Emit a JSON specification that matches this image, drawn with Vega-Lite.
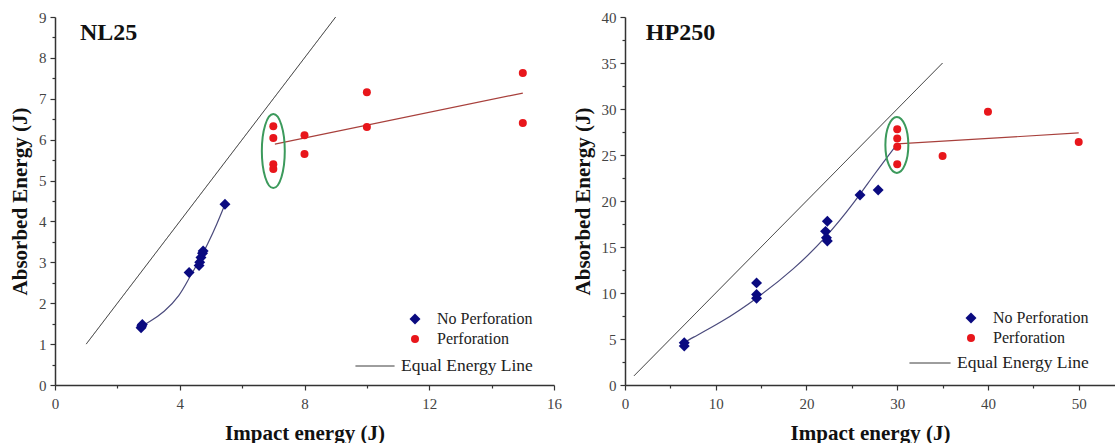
{
  "$schema": "https://vega.github.io/schema/vega-lite/v6.json",
  "padding": {"left": 9, "top": 10, "right": 0, "bottom": 0},
  "background": "white",
  "spacing": 71,
  "bounds": "flush",
  "datasets": {
    "nl_pts": [
      {"x": 2.76, "y": 1.40, "type": "No Perforation"},
      {"x": 2.78, "y": 1.44, "type": "No Perforation"},
      {"x": 2.80, "y": 1.48, "type": "No Perforation"},
      {"x": 4.30, "y": 2.75, "type": "No Perforation"},
      {"x": 4.62, "y": 2.92, "type": "No Perforation"},
      {"x": 4.64, "y": 3.00, "type": "No Perforation"},
      {"x": 4.68, "y": 3.12, "type": "No Perforation"},
      {"x": 4.73, "y": 3.22, "type": "No Perforation"},
      {"x": 4.75, "y": 3.28, "type": "No Perforation"},
      {"x": 5.45, "y": 4.42, "type": "No Perforation"},
      {"x": 7, "y": 6.33, "type": "Perforation"},
      {"x": 7, "y": 6.04, "type": "Perforation"},
      {"x": 7, "y": 5.40, "type": "Perforation"},
      {"x": 7, "y": 5.28, "type": "Perforation"},
      {"x": 8, "y": 6.11, "type": "Perforation"},
      {"x": 8, "y": 5.65, "type": "Perforation"},
      {"x": 10, "y": 7.16, "type": "Perforation"},
      {"x": 10, "y": 6.31, "type": "Perforation"},
      {"x": 15, "y": 7.63, "type": "Perforation"},
      {"x": 15, "y": 6.41, "type": "Perforation"}
    ],
    "nl_bluefit": [
      {"x": 2.80, "y": 1.45}, {"x": 3.0, "y": 1.53}, {"x": 3.5, "y": 1.78},
      {"x": 4.0, "y": 2.18}, {"x": 4.3, "y": 2.62}, {"x": 4.6, "y": 3.0},
      {"x": 4.9, "y": 3.45}, {"x": 5.2, "y": 3.95}, {"x": 5.45, "y": 4.42}
    ],
    "nl_redfit": [{"x": 7.05, "y": 5.89}, {"x": 15, "y": 7.14}],
    "nl_equal": [{"x": 1, "y": 1, "s": "Equal Energy Line"}, {"x": 9, "y": 9, "s": "Equal Energy Line"}],
    "nl_ellipse": [{"x": 7.0, "y": 5.72}],
    "nl_label": [{"x": 0.8, "y": 8.6, "t": "NL25"}],
    "hp_pts": [
      {"x": 6.53, "y": 4.24, "type": "No Perforation"},
      {"x": 6.53, "y": 4.60, "type": "No Perforation"},
      {"x": 14.5, "y": 11.1, "type": "No Perforation"},
      {"x": 14.5, "y": 9.85, "type": "No Perforation"},
      {"x": 14.5, "y": 9.42, "type": "No Perforation"},
      {"x": 22.3, "y": 17.8, "type": "No Perforation"},
      {"x": 22.1, "y": 16.7, "type": "No Perforation"},
      {"x": 22.2, "y": 16.0, "type": "No Perforation"},
      {"x": 22.3, "y": 15.65, "type": "No Perforation"},
      {"x": 25.9, "y": 20.65, "type": "No Perforation"},
      {"x": 27.9, "y": 21.2, "type": "No Perforation"},
      {"x": 30, "y": 27.8, "type": "Perforation"},
      {"x": 30, "y": 26.8, "type": "Perforation"},
      {"x": 30, "y": 25.9, "type": "Perforation"},
      {"x": 30, "y": 24.0, "type": "Perforation"},
      {"x": 35, "y": 24.9, "type": "Perforation"},
      {"x": 40, "y": 29.7, "type": "Perforation"},
      {"x": 50, "y": 26.4, "type": "Perforation"}
    ],
    "hp_bluefit": [
      {"x": 6.53, "y": 4.6}, {"x": 7.08, "y": 4.96}, {"x": 10.57, "y": 6.77},
      {"x": 14.43, "y": 9.31}, {"x": 18.65, "y": 12.6}, {"x": 22.14, "y": 16.0},
      {"x": 25.25, "y": 19.8}, {"x": 27.46, "y": 22.9}, {"x": 30.0, "y": 26.2}
    ],
    "hp_redfit": [{"x": 30, "y": 26.2}, {"x": 50, "y": 27.4}],
    "hp_equal": [{"x": 1, "y": 1, "s": "Equal Energy Line"}, {"x": 35, "y": 35, "s": "Equal Energy Line"}],
    "hp_ellipse": [{"x": 29.96, "y": 26.1}],
    "hp_label": [{"x": 2.3, "y": 38.3, "t": "HP250"}]
  },
  "hconcat": [
    {
      "width": 499,
      "height": 368,
      "encoding": {
        "x": {
          "field": "x", "type": "quantitative",
          "scale": {"domain": [0, 16], "nice": false, "zero": false},
          "axis": {
            "title": "Impact energy (J)",
            "values": [0, 2, 4, 6, 8, 10, 12, 14, 16],
            "labelExpr": "datum.value % 4 === 0 ? format(datum.value, 'd') : ''",
            "tickSize": {"condition": {"test": "datum.value % 4 === 0", "value": 5}, "value": 3},
            "labelFlush": false,
            "labelPadding": 6,
            "titlePadding": 11
          }
        },
        "y": {
          "field": "y", "type": "quantitative",
          "scale": {"domain": [0, 9], "nice": false, "zero": false},
          "axis": {
            "title": "Absorbed Energy (J)",
            "values": [0, 0.5, 1, 1.5, 2, 2.5, 3, 3.5, 4, 4.5, 5, 5.5, 6, 6.5, 7, 7.5, 8, 8.5, 9],
            "labelExpr": "datum.value % 1 === 0 ? format(datum.value, 'd') : ''",
            "tickSize": {"condition": {"test": "datum.value % 1 === 0", "value": 5}, "value": 3},
            "labelPadding": 4,
            "titlePadding": 8
          }
        }
      },
      "layer": [
        {
          "data": {"name": "nl_equal"},
          "mark": {"type": "line", "color": "#222", "strokeWidth": 1},
          "encoding": {
            "strokeDash": {
              "field": "s", "type": "nominal",
              "scale": {"domain": ["Equal Energy Line"], "range": [[1, 0]]},
              "legend": {
                "orient": "none", "legendX": 300, "legendY": 329, "title": null,
                "symbolType": "stroke", "symbolSize": 1521, "symbolStrokeColor": "#222",
                "symbolStrokeWidth": 1, "labelOffset": 6, "labelFontSize": 17.5, "padding": 0
              }
            }
          }
        },
        {
          "data": {"name": "nl_bluefit"},
          "mark": {"type": "line", "color": "#4a4a7c", "strokeWidth": 1.2, "interpolate": "basis"},
          "encoding": {}
        },
        {
          "data": {"name": "nl_redfit"},
          "mark": {"type": "line", "color": "#a8403c", "strokeWidth": 1.2},
          "encoding": {}
        },
        {
          "data": {"name": "nl_pts"},
          "mark": {"type": "point", "filled": true, "opacity": 1},
          "encoding": {
            "shape": {
              "field": "type", "type": "nominal",
              "scale": {"domain": ["No Perforation", "Perforation"], "range": ["diamond", "circle"]},
              "legend": {
                "orient": "none", "legendX": 352, "legendY": 294, "title": null,
                "symbolSize": 70, "labelOffset": 14, "labelFontSize": 16, "rowPadding": 4, "padding": 0
              }
            },
            "color": {
              "field": "type", "type": "nominal",
              "scale": {"domain": ["No Perforation", "Perforation"], "range": ["#0a0a80", "#e8161b"]},
              "legend": {
                "orient": "none", "legendX": 352, "legendY": 294, "title": null,
                "symbolSize": 70, "labelOffset": 14, "labelFontSize": 16, "rowPadding": 4, "padding": 0
              }
            },
            "size": {
              "field": "type", "type": "nominal",
              "scale": {"domain": ["No Perforation", "Perforation"], "range": [120, 64]},
              "legend": null
            }
          }
        },
        {
          "data": {"name": "nl_ellipse"},
          "mark": {
            "type": "point", "filled": false, "stroke": "#3c9a5c", "strokeWidth": 2, "opacity": 1,
            "shape": "M0,-1A0.31,1 0 1,1 0,1A0.31,1 0 1,1 0,-1Z", "size": 5476
          },
          "encoding": {}
        },
        {
          "data": {"name": "nl_label"},
          "mark": {"type": "text", "align": "left", "baseline": "middle", "font": "Liberation Serif", "fontSize": 24, "fontWeight": "bold", "color": "#111"},
          "encoding": {"text": {"field": "t"}}
        }
      ]
    },
    {
      "width": 490,
      "height": 368,
      "encoding": {
        "x": {
          "field": "x", "type": "quantitative",
          "scale": {"domain": [0, 54], "nice": false, "zero": false},
          "axis": {
            "title": "Impact energy (J)",
            "values": [0, 5, 10, 15, 20, 25, 30, 35, 40, 45, 50],
            "labelExpr": "datum.value % 10 === 0 ? format(datum.value, 'd') : ''",
            "tickSize": {"condition": {"test": "datum.value % 10 === 0", "value": 5}, "value": 3},
            "labelFlush": false,
            "labelPadding": 6,
            "titlePadding": 11
          }
        },
        "y": {
          "field": "y", "type": "quantitative",
          "scale": {"domain": [0, 40], "nice": false, "zero": false},
          "axis": {
            "title": "Absorbed Energy (J)",
            "values": [0, 2.5, 5, 7.5, 10, 12.5, 15, 17.5, 20, 22.5, 25, 27.5, 30, 32.5, 35, 37.5, 40],
            "labelExpr": "datum.value % 5 === 0 ? format(datum.value, 'd') : ''",
            "tickSize": {"condition": {"test": "datum.value % 5 === 0", "value": 5}, "value": 3},
            "labelPadding": 4,
            "titlePadding": 8
          }
        }
      },
      "layer": [
        {
          "data": {"name": "hp_equal"},
          "mark": {"type": "line", "color": "#222", "strokeWidth": 1},
          "encoding": {
            "strokeDash": {
              "field": "s", "type": "nominal",
              "scale": {"domain": ["Equal Energy Line"], "range": [[1, 0]]},
              "legend": {
                "orient": "none", "legendX": 284, "legendY": 325, "title": null,
                "symbolType": "stroke", "symbolSize": 1681, "symbolStrokeColor": "#222",
                "symbolStrokeWidth": 1, "labelOffset": 6, "labelFontSize": 17.5, "padding": 0
              }
            }
          }
        },
        {
          "data": {"name": "hp_bluefit"},
          "mark": {"type": "line", "color": "#4a4a7c", "strokeWidth": 1.2, "interpolate": "basis"},
          "encoding": {}
        },
        {
          "data": {"name": "hp_redfit"},
          "mark": {"type": "line", "color": "#a8403c", "strokeWidth": 1.2},
          "encoding": {}
        },
        {
          "data": {"name": "hp_pts"},
          "mark": {"type": "point", "filled": true, "opacity": 1},
          "encoding": {
            "shape": {
              "field": "type", "type": "nominal",
              "scale": {"domain": ["No Perforation", "Perforation"], "range": ["diamond", "circle"]},
              "legend": {
                "orient": "none", "legendX": 338, "legendY": 293, "title": null,
                "symbolSize": 70, "labelOffset": 14, "labelFontSize": 16, "rowPadding": 4, "padding": 0
              }
            },
            "color": {
              "field": "type", "type": "nominal",
              "scale": {"domain": ["No Perforation", "Perforation"], "range": ["#0a0a80", "#e8161b"]},
              "legend": {
                "orient": "none", "legendX": 338, "legendY": 293, "title": null,
                "symbolSize": 70, "labelOffset": 14, "labelFontSize": 16, "rowPadding": 4, "padding": 0
              }
            },
            "size": {
              "field": "type", "type": "nominal",
              "scale": {"domain": ["No Perforation", "Perforation"], "range": [120, 64]},
              "legend": null
            }
          }
        },
        {
          "data": {"name": "hp_ellipse"},
          "mark": {
            "type": "point", "filled": false, "stroke": "#3c9a5c", "strokeWidth": 2, "opacity": 1,
            "shape": "M0,-1A0.41,1 0 1,1 0,1A0.41,1 0 1,1 0,-1Z", "size": 3136
          },
          "encoding": {}
        },
        {
          "data": {"name": "hp_label"},
          "mark": {"type": "text", "align": "left", "baseline": "middle", "font": "Liberation Serif", "fontSize": 24, "fontWeight": "bold", "color": "#111"},
          "encoding": {"text": {"field": "t"}}
        }
      ]
    }
  ],
  "resolve": {
    "scale": {"x": "independent", "y": "independent", "color": "independent", "shape": "independent", "size": "independent", "strokeDash": "independent"},
    "legend": {"color": "independent", "shape": "independent", "strokeDash": "independent"}
  },
  "config": {
    "view": {"stroke": null},
    "font": "Liberation Serif",
    "axis": {
      "grid": false,
      "domainColor": "#333", "domainWidth": 1.5,
      "tickColor": "#333", "tickWidth": 1.2,
      "labelFont": "Liberation Serif", "labelFontSize": 15, "labelColor": "#444",
      "titleFont": "Liberation Serif", "titleFontSize": 21, "titleFontWeight": "bold", "titleColor": "#111"
    },
    "legend": {"labelFont": "Liberation Serif", "labelFontSize": 16, "labelColor": "#222"}
  }
}
